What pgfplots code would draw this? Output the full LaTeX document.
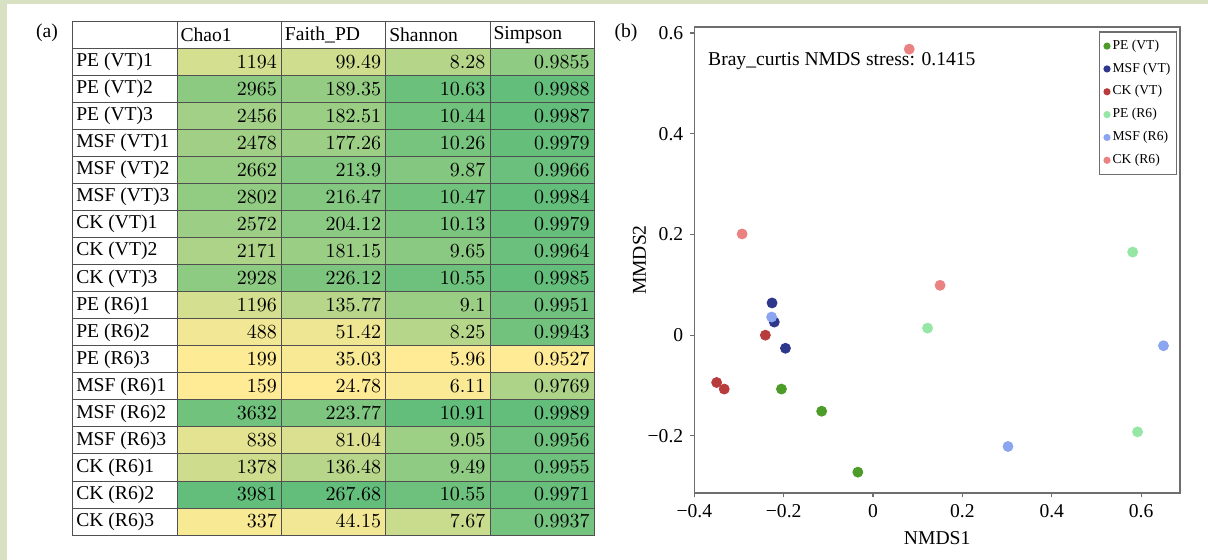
\documentclass[border=0pt]{standalone}
\usepackage{fontspec}
\setmainfont{Liberation Serif}
\usepackage{pgfplots}
\pgfplotsset{compat=1.18}
\usepackage{pgfplotstable}

\definecolor{bgband}{RGB}{217,225,195}
\definecolor{gridc}{RGB}{80,80,80}
\definecolor{framec}{RGB}{110,110,110}
\definecolor{peVT}{RGB}{77,155,40}
\definecolor{msfVT}{RGB}{45,55,140}
\definecolor{ckVT}{RGB}{185,60,60}
\definecolor{peR}{RGB}{150,230,165}
\definecolor{msfR}{RGB}{140,165,240}
\definecolor{ckR}{RGB}{235,130,130}

\newcommand\tablefont{\fontsize{9.8}{11}\selectfont}
\newcommand\legfont{\fontsize{6.8}{7.5}\selectfont}

% one table cell = 1 x unit by 1 y unit
\pgfdeclareplotmark{cell}{%
  \pgfpathrectangle{\pgfpoint{-26.08pt}{-6.755pt}}{\pgfpoint{52.16pt}{13.51pt}}%
  \pgfusepathqfillstroke}

\pgfplotsset{
  cellplot/.style={
    only marks, scatter, mark=cell, scatter src=explicit,
    mark options={line width=0.45pt},
    scatter/use mapped color={draw=gridc, fill=mapped color},
  },
  celltext/.style={
    only marks, mark=none, point meta=explicit,
    nodes near coords={\pgfmathprintnumber[fixed,precision=4,1000 sep={}]{\pgfplotspointmeta}},
    nodes near coords align={east},
    every node near coord/.append style={xshift=24pt, inner xsep=0pt, text=black, font=\tablefont},
  },
}

\pgfplotstableread[col sep=comma]{
row,name,chao,faith,shannon,simpson
1,PE (VT)1,1194,99.49,8.28,0.9855
2,PE (VT)2,2965,189.35,10.63,0.9988
3,PE (VT)3,2456,182.51,10.44,0.9987
4,MSF (VT)1,2478,177.26,10.26,0.9979
5,MSF (VT)2,2662,213.9,9.87,0.9966
6,MSF (VT)3,2802,216.47,10.47,0.9984
7,CK (VT)1,2572,204.12,10.13,0.9979
8,CK (VT)2,2171,181.15,9.65,0.9964
9,CK (VT)3,2928,226.12,10.55,0.9985
10,PE (R6)1,1196,135.77,9.1,0.9951
11,PE (R6)2,488,51.42,8.25,0.9943
12,PE (R6)3,199,35.03,5.96,0.9527
13,MSF (R6)1,159,24.78,6.11,0.9769
14,MSF (R6)2,3632,223.77,10.91,0.9989
15,MSF (R6)3,838,81.04,9.05,0.9956
16,CK (R6)1,1378,136.48,9.49,0.9955
17,CK (R6)2,3981,267.68,10.55,0.9971
18,CK (R6)3,337,44.15,7.67,0.9937
}\diversity

\begin{document}
\begin{tikzpicture}
\useasboundingbox (0,0) rectangle (604pt,280pt);
\fill[white] (0,0) rectangle (604pt,280pt);
\fill[bgband] (0,0) rectangle (3.5pt,280pt);
\fill[bgband] (0,278pt) rectangle (604pt,280pt);

\node[font=\tablefont] at (23.5pt,263.5pt) {(a)};
\node[font=\tablefont] at (313pt,263.5pt) {(b)};

% (a) alpha diversity table
\begin{axis}[
  at={(36.35pt,12.5pt)}, anchor=south west,
  scale only axis, width=260.8pt, height=256.7pt,
  xmin=-0.5, xmax=4.5, ymin=-0.5, ymax=18.5, y dir=reverse,
  axis on top,
  xtick=\empty,
  ytick={1,2,...,18},
  yticklabels from table={\diversity}{name},
  yticklabel style={anchor=west, inner xsep=1.6pt, font=\tablefont},
  extra x ticks={-0.5,0.5,...,4.5}, extra x tick labels={},
  extra y ticks={-0.5,0.5,...,18.5}, extra y tick labels={},
  extra tick style={grid=major},
  major grid style={gridc, line width=0.45pt},
  major tick length=0pt,
  axis line style={gridc, line width=0.45pt},
  colormap={gy}{rgb255=(255,235,150) rgb255=(99,190,123)},
  point meta rel=per plot,
]
\addplot[cellplot] table[x expr=1, y=row, meta=chao] {\diversity};
\addplot[cellplot] table[x expr=2, y=row, meta=faith] {\diversity};
\addplot[cellplot] table[x expr=3, y=row, meta=shannon] {\diversity};
\addplot[cellplot] table[x expr=4, y=row, meta=simpson] {\diversity};
\addplot[celltext] table[x expr=1, y=row, meta=chao] {\diversity};
\addplot[celltext] table[x expr=2, y=row, meta=faith] {\diversity};
\addplot[celltext] table[x expr=3, y=row, meta=shannon] {\diversity};
\addplot[celltext] table[x expr=4, y=row, meta=simpson] {\diversity};
\node[anchor=west, inner xsep=1.6pt, font=\tablefont] at (axis cs:0.5,0) {Chao1};
\node[anchor=west, inner xsep=1.6pt, font=\tablefont] at (axis cs:1.5,0) {Faith\_PD};
\node[anchor=west, inner xsep=1.6pt, font=\tablefont] at (axis cs:2.5,0) {Shannon};
\node[anchor=west, inner xsep=1.6pt, font=\tablefont] at (axis cs:3.5,0) {Simpson};
\end{axis}

% (b) NMDS
\begin{axis}[
  at={(347.15pt,33.35pt)}, anchor=south west,
  scale only axis, width=242.85pt, height=233.15pt,
  xmin=-0.4, xmax=0.687, ymin=-0.314, ymax=0.612,
  xtick={-0.4,-0.2,0,0.2,0.4,0.6},
  xticklabels={−0.4,−0.2,0,0.2,0.4,0.6},
  ytick={-0.2,0,0.2,0.4,0.6},
  yticklabels={−0.2,0,0.2,0.4,0.6},
  tick label style={font=\tablefont},
  tick align=outside, xtick pos=lower, ytick pos=left,
  major tick length=2pt, tick style={framec, line width=0.6pt},
  axis line style={framec, line width=0.8pt},
  xlabel={NMDS1}, ylabel={MMDS2},
  label style={font=\tablefont},
  ylabel style={xshift=0pt, yshift=-6pt},
  legend style={at={(0.994,0.991)}, anchor=north east, draw=framec,
    line width=0.7pt, font=\legfont, row sep=3.2pt,
    inner xsep=2pt, inner ysep=3pt, nodes={inner sep=1pt}},
  legend cell align=left,
  legend image code/.code={\fill[#1, draw=none] (2pt,0pt) circle (1.8pt);},
  every axis plot/.append style={only marks, mark=*, mark size=2.5pt},
]
\addplot[peVT, mark options={fill=peVT, draw=peVT}] coordinates {(-0.205,-0.107) (-0.115,-0.151) (-0.034,-0.272)};
\addlegendentry{PE (VT)}
\addplot[msfVT, mark options={fill=msfVT, draw=msfVT}] coordinates {(-0.226,0.064) (-0.221,0.026) (-0.196,-0.026)};
\addlegendentry{MSF (VT)}
\addplot[ckVT, mark options={fill=ckVT, draw=ckVT}] coordinates {(-0.241,0.000) (-0.350,-0.094) (-0.333,-0.107)};
\addlegendentry{CK (VT)}
\addplot[peR, mark options={fill=peR, draw=peR}] coordinates {(0.581,0.165) (0.122,0.014) (0.592,-0.192)};
\addlegendentry{PE (R6)}
\addplot[msfR, mark options={fill=msfR, draw=msfR}] coordinates {(-0.227,0.036) (0.650,-0.021) (0.302,-0.221)};
\addlegendentry{MSF (R6)}
\addplot[ckR, mark options={fill=ckR, draw=ckR}] coordinates {(0.081,0.568) (-0.293,0.201) (0.150,0.099)};
\addlegendentry{CK (R6)}
\node[anchor=base west, font=\tablefont] at (rel axis cs:0.014,0.917) {Bray\_curtis NMDS stress: 0.1415};
\end{axis}
\end{tikzpicture}
\end{document}
